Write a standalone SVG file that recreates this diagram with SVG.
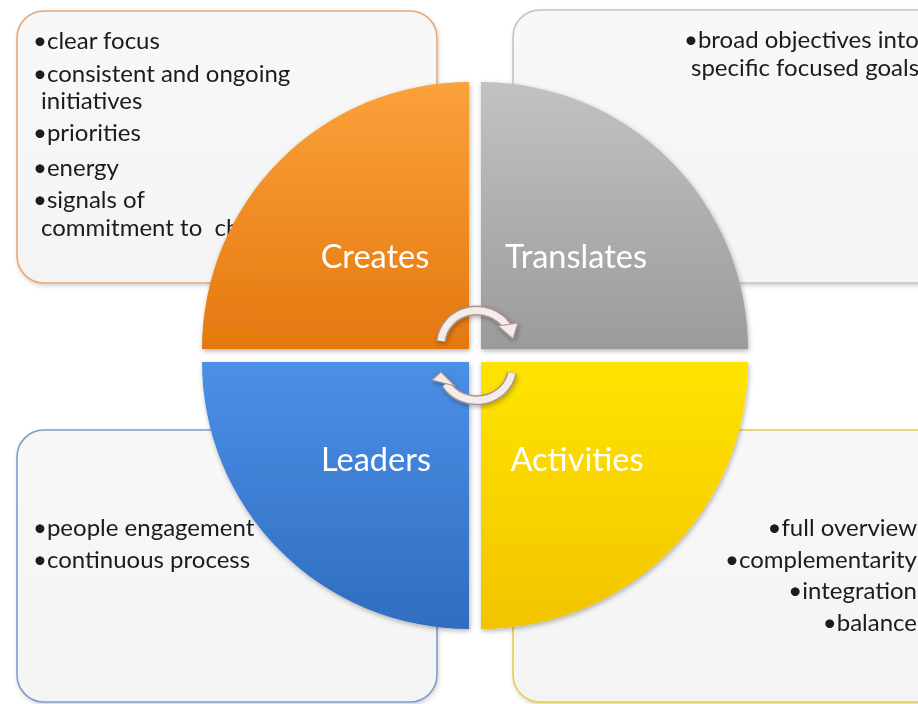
<svg xmlns="http://www.w3.org/2000/svg" width="918" height="704" viewBox="0 0 918 704">
<style>
.box{fill:url(#boxg);stroke-width:1.6}
.t{font-family:Lato,"Open Sans","Liberation Sans",sans-serif;font-size:24px;fill:#1a1a1a}
.lbl{font-family:Lato,"Open Sans","Liberation Sans",sans-serif;font-size:32.5px;fill:#ffffff}
.arc{fill:none;stroke:#a89390;stroke-width:10;stroke-linecap:butt}
.arcin{fill:none;stroke:#f5ebe8;stroke-width:7;stroke-linecap:butt}
.head{fill:#f5ebe8;stroke:#a89390;stroke-width:1.2;stroke-linejoin:round}
</style>
<defs>
<linearGradient id="boxg" x1="0" y1="0" x2="0" y2="1"><stop offset="0" stop-color="#f8f8f8"/><stop offset="1" stop-color="#f4f4f4"/></linearGradient>
<linearGradient id="og" x1="0" y1="0" x2="0" y2="1"><stop offset="0" stop-color="#faa23a"/><stop offset="1" stop-color="#e5780f"/></linearGradient>
<linearGradient id="gg" x1="0" y1="0" x2="0" y2="1"><stop offset="0" stop-color="#c2c2c2"/><stop offset="1" stop-color="#9b9b9b"/></linearGradient>
<linearGradient id="bg" x1="0" y1="0" x2="0" y2="1"><stop offset="0" stop-color="#4b90e6"/><stop offset="1" stop-color="#2f6dc0"/></linearGradient>
<linearGradient id="yg" x1="0" y1="0" x2="0" y2="1"><stop offset="0" stop-color="#ffe400"/><stop offset="1" stop-color="#f2c400"/></linearGradient>
<filter id="sh" x="-10%" y="-10%" width="120%" height="120%"><feDropShadow dx="1" dy="2" stdDeviation="2.5" flood-color="#000" flood-opacity="0.3"/></filter>
<filter id="bsh" x="-5%" y="-5%" width="110%" height="110%"><feDropShadow dx="1" dy="2" stdDeviation="2" flood-color="#000" flood-opacity="0.18"/></filter>
</defs>
<rect width="918" height="704" fill="#ffffff"/>

<g id="box-creates" filter="url(#bsh)">
<rect class="box" x="17" y="11" width="420" height="272" rx="27" stroke="#e6a878"/>
<text class="t"><tspan x="33" y="49">•clear focus</tspan><tspan x="33" y="82">•consistent and ongoing</tspan><tspan x="41" y="109">initiatives</tspan><tspan x="33" y="141">•priorities</tspan><tspan x="33" y="176">•energy</tspan><tspan x="33" y="208">•signals of</tspan><tspan x="41" y="236">commitment to&#160; ch</tspan></text>
</g>
<g id="box-translates" filter="url(#bsh)">
<rect class="box" x="513" y="10" width="430" height="273" rx="27" stroke="#c4c4c4"/>
<text class="t"><tspan x="684" y="48">•broad objectives into</tspan><tspan x="691" y="76">specific focused goals</tspan></text>
</g>
<g id="box-leaders" filter="url(#bsh)">
<rect class="box" x="17" y="430" width="420" height="272" rx="27" stroke="#7f9ccc"/>
<text class="t"><tspan x="33" y="536">•people engagement</tspan><tspan x="33" y="568">•continuous process</tspan></text>
</g>
<g id="box-activities" filter="url(#bsh)">
<rect class="box" x="513" y="430" width="430" height="272" rx="27" stroke="#e6cc50"/>
<text class="t" text-anchor="end"><tspan x="917" y="536">•full overview</tspan><tspan x="917" y="568">•complementarity</tspan><tspan x="917" y="599">•integration</tspan><tspan x="917" y="631">•balance</tspan></text>
</g>

<g id="q-creates" filter="url(#sh)">
<path d="M469,349 L202,349 A267,267 0 0 1 469,82 Z" fill="url(#og)"/>
<text class="lbl" x="375" y="268" text-anchor="middle">Creates</text>
</g>
<g id="q-translates" filter="url(#sh)">
<path d="M481,349 L481,82 A267,267 0 0 1 748,349 Z" fill="url(#gg)"/>
<text class="lbl" x="576" y="268" text-anchor="middle">Translates</text>
</g>
<g id="q-leaders" filter="url(#sh)">
<path d="M469,362 L469,629 A267,267 0 0 1 202,362 Z" fill="url(#bg)"/>
<text class="lbl" x="376" y="471" text-anchor="middle">Leaders</text>
</g>
<g id="q-activities" filter="url(#sh)">
<path d="M481,362 L748,362 A267,267 0 0 1 481,629 Z" fill="url(#yg)"/>
<text class="lbl" x="577" y="471" text-anchor="middle">Activities</text>
</g>

<g id="connectors" filter="url(#sh)">
<path class="arc" d="M441,341 A36,34 0 0 1 507,326"/>
<path class="arcin" d="M441,341 A36,34 0 0 1 507,326"/>
<polygon class="head" points="498,326 518,323 513,339"/>
<path class="arc" d="M512,373 A36,34 0 0 1 446,384"/>
<path class="arcin" d="M512,373 A36,34 0 0 1 446,384"/>
<polygon class="head" points="455,386 432,380 441,372"/>
</g>
</svg>
